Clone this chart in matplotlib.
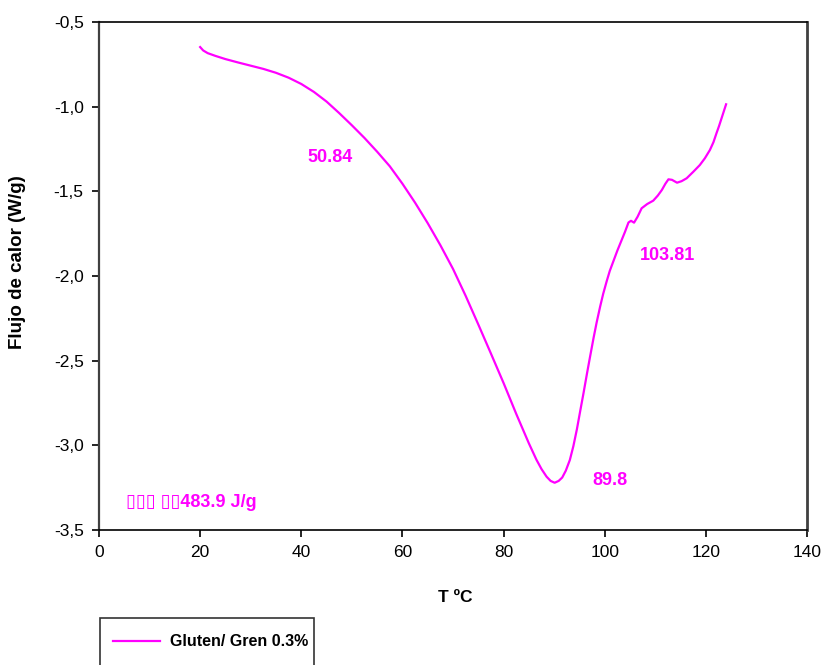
import matplotlib
import numpy as np

matplotlib.use("Agg")

from matplotlib import pyplot as plt  # noqa: E402
from matplotlib.patches import Rectangle  # noqa: E402
from matplotlib.ticker import FuncFormatter  # noqa: E402

plt.rcParams["font.family"] = ["Liberation Sans", "DejaVu Sans"]

# DSC thermogram, gluten with 0.3 % gren
temp_c = [20.0, 20.6, 21.5, 23.0, 25.0, 27.5, 30.0, 32.5, 35.0, 37.5, 40.0,
          42.5, 45.0, 47.5, 50.0, 52.5, 55.0, 57.5, 60.0, 62.5, 65.0, 67.5,
          70.0, 72.5, 75.0, 77.5, 80.0, 82.5, 85.0, 86.5, 87.5, 88.5, 89.3,
          90.1, 90.9, 91.6, 92.3, 93.1, 93.8, 94.5, 95.2, 95.8, 96.5, 97.1,
          97.8, 98.4, 99.1, 99.7, 100.4, 101.0, 102.5, 104.0, 104.7, 105.2,
          105.8, 106.5, 107.3, 108.4, 109.6, 110.5, 111.3, 112.0, 112.6,
          113.3, 114.3, 115.2, 116.2, 117.5, 118.8, 119.8, 120.8, 121.5,
          122.1, 122.6, 123.1, 124.0]
heat_flow = [-0.648, -0.668, -0.684, -0.700, -0.719, -0.739, -0.758, -0.777,
             -0.800, -0.829, -0.866, -0.913, -0.970, -1.038, -1.110, -1.185,
             -1.266, -1.352, -1.455, -1.567, -1.688, -1.818, -1.958, -2.117,
             -2.286, -2.458, -2.632, -2.814, -2.988, -3.085, -3.140, -3.185,
             -3.210, -3.221, -3.210, -3.190, -3.150, -3.087, -3.005, -2.905,
             -2.790, -2.693, -2.575, -2.477, -2.365, -2.275, -2.180, -2.105,
             -2.030, -1.970, -1.850, -1.740, -1.684, -1.674, -1.685, -1.650,
             -1.600, -1.575, -1.555, -1.525, -1.492, -1.455, -1.429, -1.432,
             -1.449, -1.440, -1.423, -1.385, -1.345, -1.305, -1.256, -1.210,
             -1.157, -1.115, -1.069, -0.986]
series_name = "Gluten/ Gren 0.3%"

# peak annotations: (text, x, y)
annotations = [("50.84", 45.7, -1.30),
               ("103.81", 112.5, -1.876),
               ("89.8", 101.0, -3.205)]
enthalpy_text = "\u25af\u25af\u25af \u25af\u25af483.9 J/g"
x_ticks = [0, 20, 40, 60, 80, 100, 120, 140]
y_ticks = [-0.5, -1.0, -1.5, -2.0, -2.5, -3.0, -3.5]

magenta = "#ff00ff"

fig = plt.figure(figsize=(8.25, 6.65), dpi=100)
ax = fig.add_axes([99 / 825, 1 - 530 / 665, 708 / 825, 508 / 665])

line, = ax.plot(temp_c, heat_flow, color=magenta, lw=1.6, label=series_name,
                solid_joinstyle="round")

for txt, x, y in annotations:
    ax.text(x, y, txt, color=magenta, fontsize=13, fontweight="bold",
            ha="center", va="center")
ax.text(5.3, -3.34, enthalpy_text, color=magenta, fontsize=13,
        fontweight="bold", ha="left", va="center")

ax.set_xlim(0, 140)
ax.set_ylim(-3.5, -0.5)
ax.set_xticks(x_ticks)
ax.set_yticks(y_ticks)
ax.yaxis.set_major_formatter(FuncFormatter(lambda v, p: f"{v:.1f}".replace(".", ",")))
ax.tick_params(direction="out", length=5, width=1.2, labelsize=12.5, pad=6)

ax.spines["left"].set_color("#404040")
ax.spines["left"].set_linewidth(1.6)
ax.spines["right"].set_color("#404040")
ax.spines["right"].set_linewidth(2.0)
ax.spines["top"].set_linewidth(1.2)
ax.spines["bottom"].set_linewidth(1.2)

fig.text(455 / 825, 1 - 598 / 665, "T \u00baC", fontsize=12.5, fontweight="bold",
         ha="center", va="center")
fig.text(18 / 825, 1 - 262 / 665, "Flujo de calor (W/g)", fontsize=13.5,
         fontweight="bold", rotation=90, ha="center", va="center")

# legend box runs past the bottom edge of the figure
fig.patches.append(Rectangle((100 / 825, -0.05), 214 / 825, 1 - 618 / 665 + 0.05,
                             transform=fig.transFigure, fill=False,
                             edgecolor="#333333", lw=1.2))
fig.legend(handles=[line], loc="center left", frameon=False,
           bbox_to_anchor=(113 / 825, 1 - 642 / 665),
           prop={"weight": "bold", "size": 11.5},
           handlelength=2.95, handletextpad=0.63, borderpad=0, borderaxespad=0)

fig.savefig("out.png", dpi=100)
plt.close("all")
